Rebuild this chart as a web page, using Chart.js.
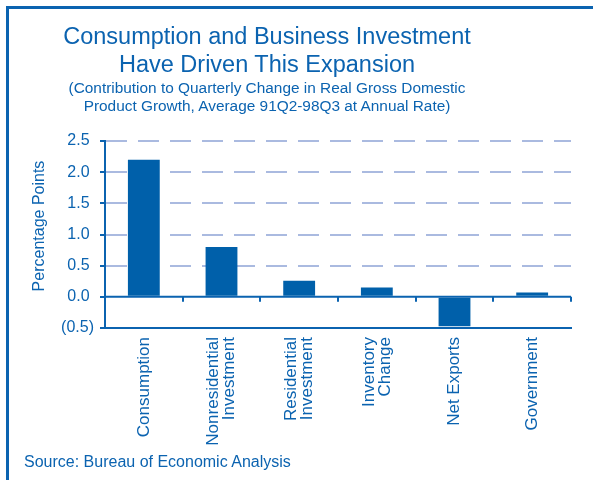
<!DOCTYPE html>
<html>
<head>
<meta charset="utf-8">
<script src="https://cdn.jsdelivr.net/npm/chart.js@4"></script>
<style>
  body { margin: 0; background: #fff; }
  #wrap { position: relative; width: 593px; height: 480px; overflow: hidden; font-family: "Liberation Sans", Arial, sans-serif; color: #0B63B0; }
  #frame { position: absolute; left: 6px; top: 6px; right: -10px; bottom: -10px; border-top: 3px solid #0B63B0; border-left: 3px solid #0B63B0; }
  #title { position: absolute; left: 0; width: 534px; top: 22px; text-align: center; font-size: 23.5px; line-height: 28px; }
  #subtitle { position: absolute; left: 0; width: 534px; top: 79px; text-align: center; font-size: 15.4px; line-height: 18px; }
  #source { position: absolute; left: 24px; top: 453px; font-size: 16px; }
  canvas { position: absolute; left: 0; top: 0; }
</style>
</head>
<body>
<div id="wrap">
  <div id="frame"></div>
  <canvas id="chart" width="593" height="480"></canvas>
  <div id="title">Consumption and Business Investment<br>Have Driven This Expansion</div>
  <div id="subtitle">(Contribution to Quarterly Change in Real Gross Domestic<br>Product Growth, Average 91Q2-98Q3 at Annual Rate)</div>
  <div id="source">Source: Bureau of Economic Analysis</div>
</div>
<script>
// dữ liệu
const categories = [
  'Consumption',
  ['Nonresidential', 'Investment'],
  ['Residential', 'Investment'],
  ['Inventory', 'Change'],
  'Net Exports',
  'Government'
];
const contributions = [2.2, 0.8, 0.26, 0.15, -0.47, 0.07];
const yTicks = [-0.5, 0, 0.5, 1.0, 1.5, 2.0, 2.5];
const yTitle = 'Percentage Points';

const blue = '#0B63B0';
const barBlue = '#0060AA';
const gridBlue = '#AABAE0';
const fontFamily = '"Liberation Sans", Arial, sans-serif';

// đường 0, vạch chia, nhãn trục x (nhiều dòng, căn giữa) và tiêu đề trục y
const extras = {
  id: 'extras',
  afterDatasetsDraw(chart) {
    const ctx = chart.ctx;
    const x = chart.scales.x, y = chart.scales.y;
    const y0 = y.getPixelForValue(0);
    ctx.save();
    ctx.strokeStyle = blue;
    ctx.lineWidth = 2;
    ctx.beginPath();
    ctx.moveTo(x.left, y0);
    ctx.lineTo(x.right, y0);
    for (let i = 1; i <= categories.length; i++) {
      const px = Math.round(x.getPixelForValue(i - 0.5));
      ctx.moveTo(px, y0);
      ctx.lineTo(px, y0 + 5);
    }
    ctx.stroke();
    ctx.restore();
  },
  afterDraw(chart) {
    const ctx = chart.ctx;
    const x = chart.scales.x;
    ctx.save();
    ctx.fillStyle = blue;
    ctx.font = '17px ' + fontFamily;
    ctx.textAlign = 'right';
    ctx.textBaseline = 'middle';
    categories.forEach((lab, i) => {
      const lines = Array.isArray(lab) ? lab : [lab];
      const cx = x.getPixelForValue(i);
      lines.forEach((t, j) => {
        const off = (j - (lines.length - 1) / 2) * 16;
        ctx.save();
        ctx.translate(cx + off, x.top + 9);
        ctx.rotate(-Math.PI / 2);
        ctx.fillText(t, 0, 0);
        ctx.restore();
      });
    });

    ctx.font = '16px ' + fontFamily;
    ctx.textAlign = 'center';
    ctx.translate(40, 226);
    ctx.rotate(-Math.PI / 2);
    ctx.fillText(yTitle, 0, 0);
    ctx.restore();
  }
};

new Chart(document.getElementById('chart'), {
  type: 'bar',
  data: {
    labels: categories,
    datasets: [{
      data: contributions,
      backgroundColor: barBlue,
      borderWidth: 0,
      categoryPercentage: 1,
      barPercentage: 0.41
    }]
  },
  options: {
    responsive: false,
    animation: false,
    layout: { padding: { top: 141, right: 22, left: 0, bottom: 0 } },
    plugins: { legend: { display: false }, tooltip: { enabled: false } },
    scales: {
      x: {
        grid: { display: false, drawTicks: false },
        border: { display: true, color: blue, width: 2 },
        ticks: { display: false },
        afterFit(scale) { scale.height = 480 - 328; }
      },
      y: {
        min: -0.5,
        max: 2.5,
        afterBuildTicks(scale) { scale.ticks = yTicks.map(v => ({ value: v })); },
        afterFit(scale) { scale.width = 105; },
        border: { display: true, color: blue, width: 2, dash: [21, 11] },
        grid: {
          color: ctx => (ctx.tick && ctx.tick.value > 0) ? gridBlue : 'rgba(0,0,0,0)',
          lineWidth: 2,
          drawTicks: true,
          tickLength: 5,
          tickColor: blue,
          tickWidth: 2,
          tickBorderDash: []
        },
        ticks: {
          color: blue,
          padding: 6,
          font: { family: fontFamily, size: 16 },
          callback: v => v < 0 ? '(' + Math.abs(v).toFixed(1) + ')' : v.toFixed(1) + ' '
        }
      }
    }
  },
  plugins: [extras]
});
</script>
</body>
</html>
